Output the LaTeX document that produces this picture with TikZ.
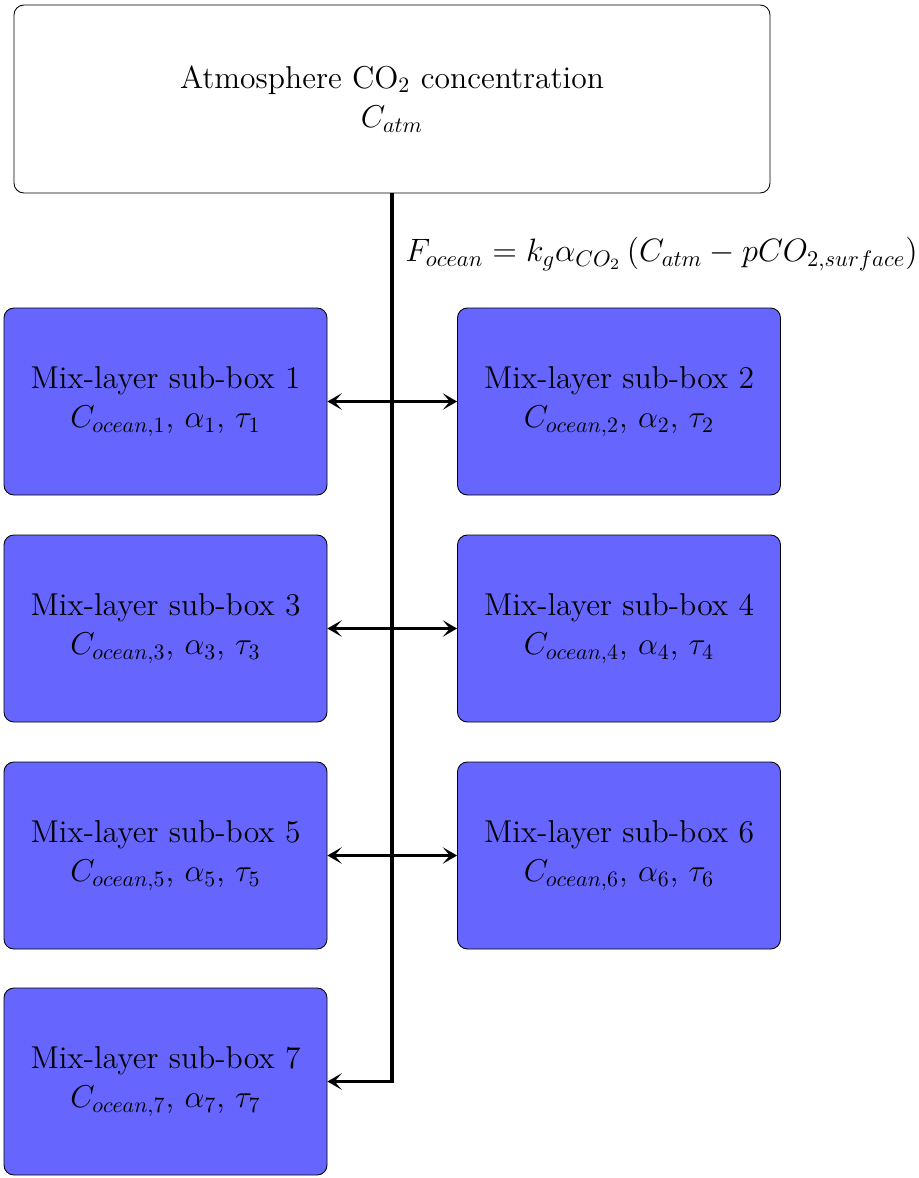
\documentclass[tikz,border=0pt]{standalone}
\usetikzlibrary{arrows.meta}
\begin{document}
\begin{tikzpicture}[x=0.4558pt,y=-0.4558pt,
  subbox/.style={draw=black, fill=blue!60, rounded corners=4.5pt, align=center, font=\Large,
    minimum width={323*0.4558pt}, minimum height={187*0.4558pt}, inner sep=0pt},
  atmbox/.style={draw=black, fill=white, rounded corners=4.5pt, align=center, font=\Large,
    minimum width={756*0.4558pt}, minimum height={188*0.4558pt}, inner sep=0pt},
  tip/.tip={Stealth[length=6.5pt, width=7.5pt, inset=3.2pt]},
  flux/.style={line width=1.8pt, -tip},
  exch/.style={line width=1.6pt, tip-tip}]
\useasboundingbox (0,0) rectangle (919,1178);
\node[atmbox] (atm) at (392,99) {Atmosphere CO$_2$ concentration\\ $C_{atm}$};
\node[subbox] (b1) at (165.5,401.5) {Mix-layer sub-box 1\\ $C_{ocean,1}$, $\alpha_1$, $\tau_1$};
\node[subbox] (b2) at (619,401.5) {Mix-layer sub-box 2\\ $C_{ocean,2}$, $\alpha_2$, $\tau_2$};
\node[subbox] (b3) at (165.5,628.5) {Mix-layer sub-box 3\\ $C_{ocean,3}$, $\alpha_3$, $\tau_3$};
\node[subbox] (b4) at (619,628.5) {Mix-layer sub-box 4\\ $C_{ocean,4}$, $\alpha_4$, $\tau_4$};
\node[subbox] (b5) at (165.5,855.5) {Mix-layer sub-box 5\\ $C_{ocean,5}$, $\alpha_5$, $\tau_5$};
\node[subbox] (b6) at (619,855.5) {Mix-layer sub-box 6\\ $C_{ocean,6}$, $\alpha_6$, $\tau_6$};
\node[subbox] (b7) at (165.5,1081.5) {Mix-layer sub-box 7\\ $C_{ocean,7}$, $\alpha_7$, $\tau_7$};
\draw[flux] (atm.south) |- (b7.east);
\draw[exch] (b1.east) -- (b2.west);
\draw[exch] (b3.east) -- (b4.west);
\draw[exch] (b5.east) -- (b6.west);
\node[anchor=west, font=\Large, inner sep=0pt] (fx) at (405,254) {\scalebox{1.024}{$F_{ocean} = k_g \alpha_{CO_2} \left(C_{atm} - pCO_{2,surface}\right)$}};
\end{tikzpicture}
\end{document}
